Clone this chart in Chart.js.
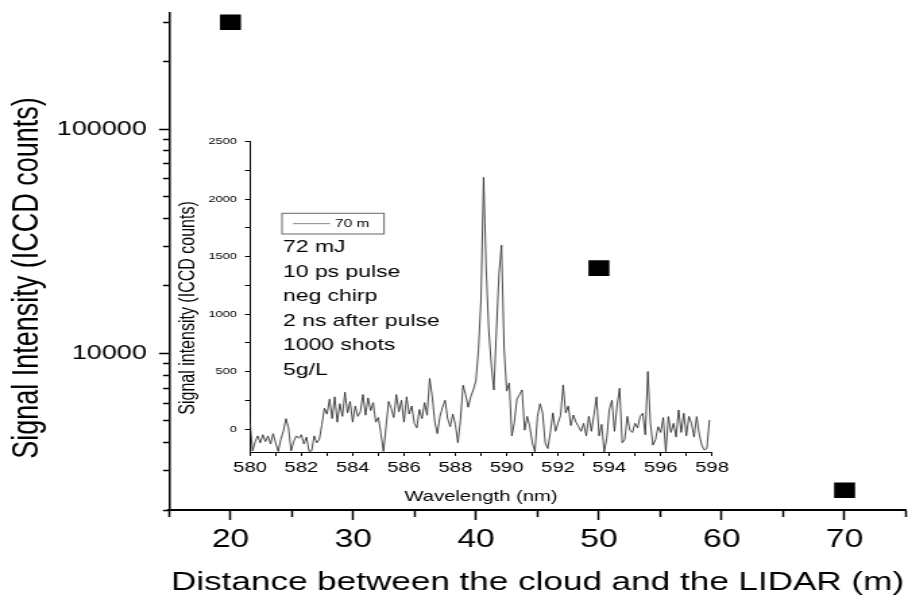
<!DOCTYPE html>
<html>
<head>
<meta charset="utf-8">
<script src="https://cdn.jsdelivr.net/npm/chart.js@4/dist/chart.umd.min.js"></script>
<style>
  html, body { margin: 0; background: #fff; }
  #wrap { position: relative; width: 908px; height: 598px; }
  #wrap canvas { position: absolute; left: 0; top: 0; }
</style>
</head>
<body>
<div id="wrap">
  <canvas id="main" width="673" height="598" style="width:908px;height:598px"></canvas>
  <canvas id="inset" width="673" height="598" style="width:908px;height:598px"></canvas>
</div>
<script>
// main plot: signal vs distance
var distance = [20, 50, 70];
var intensity = [300000, 24000, 2450];

// inset spectrum at 70 m, one value every 0.1 nm from 580 nm
var wlStart = 580;
var wlStep = 0.1;
var counts70m = [
  50, -190, -110, -60, -120, -50, -110, -60, -130, -40,
  -120, -195, -90, -20, 90, 10, -190, -110, -60, -80,
  -50, -130, -70, -195, -190, -60, -120, -90, 40, 180,
  130, 260, 90, 280, 60, 220, 110, 320, 140, 240,
  60, 200, 110, 150, 300, 120, 270, 160, 230, 60,
  100, -40, -195, 20, 240, 180, 100, 300, 150, 250,
  60, 280, 130, 200, 50, 10, 170, 90, 230, 120,
  440, 280, 60, -40, 110, 190, 250, 90, 20, 130,
  40, -120, 80, 380, 300, 190, 280, 340, 420, 690,
  1120, 2190, 1400, 870, 560, 340, 850, 1350, 1600, 700,
  330, 400, -60, 60, 260, 300, 340, -10, 110, 20,
  -120, -198, 110, 220, 140, -120, -170, -30, 140, -20,
  50, 120, 384, 140, 200, 30, 122, 60, 20, -20,
  50, -60, 110, -20, 120, 280, -60, 40, -198, -80,
  170, 250, -20, 200, 355, -120, -90, 110, -10, -30,
  50, 10, 110, 137, -50, 500, 50, -140, -90, 20,
  -30, 100, -198, 108, -30, 50, -70, 166, -30, 137,
  -60, 110, 50, -70, 108, -40, -140, -183, -170, 79
];

// inset tick positions
var insetYTicks = [0, 250, 500, 750, 1000, 1250, 1500, 1750, 2000, 2250, 2500];

var legendLabel = "70 m";
var noteLines = ["72 mJ", "10 ps pulse", "neg chirp", "2 ns after pulse", "1000 shots", "5g/L"];

// the original figure is stretched sideways, so draw narrow and let css widen it
var SX = 908 / 673;
function px(x) { return x / SX; }

var family = "'Liberation Sans', Arial, sans-serif";

// extra text: rotated y titles, legend box and the notes in the inset
var notes = {
  id: "notes",
  afterDraw: function (chart, args, o) {
    var ctx = chart.ctx;
    ctx.save();
    ctx.fillStyle = "#000";
    if (o.yTitle) {
      ctx.save();
      ctx.translate(o.yTitle.x, o.yTitle.y);
      ctx.rotate(-Math.PI / 2);
      ctx.font = o.yTitle.size + "px " + family;
      ctx.textAlign = "center";
      ctx.textBaseline = "middle";
      ctx.fillText(o.yTitle.text, 0, 0);
      ctx.restore();
    }
    if (o.legend) {
      var L = o.legend;
      var mid = L.y + L.h / 2;
      ctx.strokeStyle = "#666";
      ctx.lineWidth = 1;
      ctx.strokeRect(L.x, L.y, L.w, L.h);
      ctx.strokeStyle = "#888";
      ctx.beginPath();
      ctx.moveTo(L.x + px(11), mid);
      ctx.lineTo(L.x + px(48), mid);
      ctx.stroke();
      ctx.font = L.size + "px " + family;
      ctx.textAlign = "left";
      ctx.textBaseline = "middle";
      ctx.fillText(chart.data.datasets[0].label, L.x + px(53), mid + 0.5);
    }
    if (o.lines) {
      ctx.font = o.lines.size + "px " + family;
      ctx.textAlign = "left";
      ctx.textBaseline = "alphabetic";
      o.lines.text.forEach(function (t, i) {
        ctx.fillText(t, o.lines.x, o.lines.y + i * o.lines.step);
      });
    }
    ctx.restore();
  }
};

function wholeMantissa(v) {
  var m = v / Math.pow(10, Math.floor(Math.log10(v) + 1e-9));
  return Math.abs(m - Math.round(m)) < 1e-6;
}

// keep the plot area where the axes put it, no room for label overflow
function fixX(h) {
  return function (s) { s.height = h; s.paddingLeft = 0; s.paddingRight = 0; };
}
function fixY(w) {
  return function (s) { s.width = w; s.paddingTop = 0; s.paddingBottom = 0; };
}

var yMajor = px(10), yMinor = px(6);

var mainChart = new Chart(document.getElementById("main"), {
  type: "scatter",
  data: {
    datasets: [{
      data: distance.map(function (d, i) { return { x: d, y: intensity[i] }; }),
      pointStyle: "rect",
      pointRadius: 11,
      backgroundColor: "#000",
      borderColor: "#000",
      borderWidth: 0
    }]
  },
  options: {
    responsive: false,
    animation: false,
    devicePixelRatio: 1,
    layout: { autoPadding: false, padding: { left: 0, right: 673 - px(906), top: 13, bottom: 0 } },
    scales: {
      x: {
        type: "linear",
        min: 15,
        max: 75,
        afterFit: fixX(598 - 510),
        ticks: {
          stepSize: 5,
          autoSkip: false,
          maxRotation: 0,
          padding: 5,
          color: "#000",
          font: { family: family, size: 25 },
          callback: function (v) { return v % 10 === 0 ? v : ""; }
        },
        grid: {
          drawOnChartArea: false,
          tickLength: 10,
          tickWidth: 1.5,
          tickColor: "#000",
          tickBorderDash: function (c) { return c.tick && c.tick.value % 10 === 0 ? [] : [6, 20]; }
        },
        border: { color: "#000", width: 2 },
        title: {
          display: true,
          text: "Distance between the cloud and the LIDAR (m)",
          color: "#000",
          font: { family: family, size: 26 },
          padding: { top: 0, bottom: 0 }
        }
      },
      y: {
        type: "logarithmic",
        min: 2000,
        max: 330000,
        afterFit: fixY(px(169)),
        afterBuildTicks: function (s) {
          s.ticks = s.ticks.filter(function (t) { return wholeMantissa(t.value); });
        },
        ticks: {
          autoSkip: false,
          padding: 9,
          color: "#000",
          font: { family: family, size: 20 },
          callback: function (v) { return (v === 10000 || v === 100000) ? String(v) : ""; }
        },
        grid: {
          drawOnChartArea: false,
          tickLength: yMajor,
          tickWidth: 1.5,
          tickColor: "#000",
          tickBorderDash: function (c) {
            var v = c.tick && c.tick.value;
            return (v === 10000 || v === 100000) ? [] : [yMinor, 20];
          },
          tickBorderDashOffset: yMinor + 20 - (yMajor - yMinor)
        },
        border: { color: "#000", width: 1.5 }
      }
    },
    plugins: {
      legend: { display: false },
      tooltip: { enabled: false },
      notes: {
        yTitle: { text: "Signal Intensity (ICCD counts)", x: px(27.5), y: 278, size: 27 }
      }
    }
  },
  plugins: [notes]
});

var insetChart = new Chart(document.getElementById("inset"), {
  type: "line",
  data: {
    datasets: [{
      label: legendLabel,
      data: counts70m.map(function (c, i) { return { x: wlStart + i * wlStep, y: c }; }),
      borderColor: "#2a2a2a",
      borderWidth: 0.85,
      pointRadius: 0,
      tension: 0,
      fill: false
    }]
  },
  options: {
    responsive: false,
    animation: false,
    devicePixelRatio: 1,
    layout: { autoPadding: false, padding: { left: px(250) - 60, right: 673 - px(712), top: 141.7, bottom: 598 - 452 - 60 } },
    scales: {
      x: {
        type: "linear",
        min: 580,
        max: 598,
        afterFit: fixX(60),
        ticks: {
          stepSize: 1,
          autoSkip: false,
          maxRotation: 0,
          padding: 3,
          color: "#000",
          font: { family: family, size: 15 },
          callback: function (v) { return v % 2 === 0 ? v : ""; }
        },
        grid: { drawOnChartArea: false, tickLength: 4, tickWidth: 1, tickColor: "#000" },
        border: { color: "#000", width: 1 },
        title: {
          display: true,
          text: "Wavelength (nm)",
          color: "#000",
          font: { family: family, size: 15 },
          padding: { top: 0, bottom: 6 }
        }
      },
      y: {
        type: "linear",
        min: -200,
        max: 2500,
        afterFit: fixY(60),
        afterBuildTicks: function (s) {
          s.ticks = insetYTicks.map(function (v) { return { value: v }; });
        },
        ticks: {
          autoSkip: false,
          padding: 6,
          color: "#000",
          font: { family: family, size: 9.5 },
          callback: function (v) { return v % 500 === 0 ? String(v) : ""; }
        },
        grid: { drawOnChartArea: false, tickLength: px(5), tickWidth: 1, tickColor: "#000" },
        border: { color: "#000", width: 1 }
      }
    },
    plugins: {
      legend: { display: false },
      tooltip: { enabled: false },
      notes: {
        yTitle: { text: "Signal intensity (ICCD counts)", x: px(189), y: 308, size: 16 },
        legend: { x: px(282), y: 213.3, w: px(102), h: 20.7, size: 11.5 },
        lines: { text: noteLines, x: px(283), y: 252, step: 24.5, size: 17 }
      }
    }
  },
  plugins: [notes]
});
</script>
</body>
</html>
